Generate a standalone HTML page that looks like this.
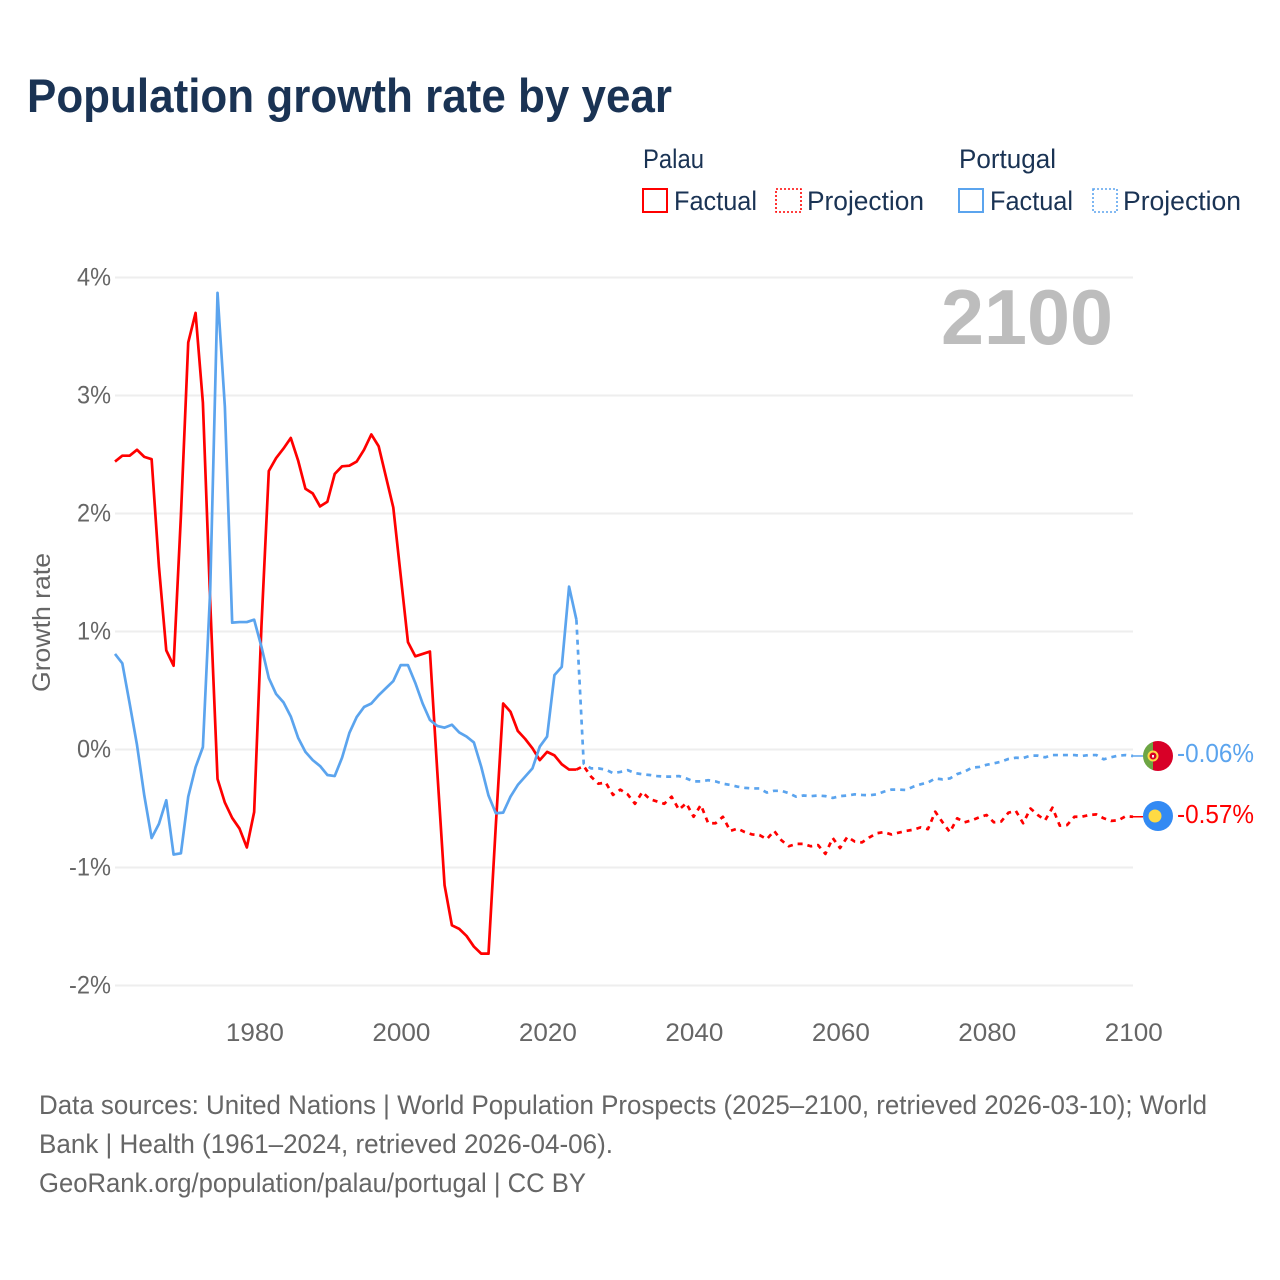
<!DOCTYPE html>
<html lang="en">
<head>
<meta charset="utf-8">
<title>Population growth rate by year</title>
<style>
html,body{margin:0;padding:0;background:#fff;}
svg{display:block;}
text{font-family:"Liberation Sans",sans-serif;}
</style>
</head>
<body>
<svg id="chart" xmlns="http://www.w3.org/2000/svg" width="1280" height="1280" viewBox="0 0 1280 1280">
  <rect x="0" y="0" width="1280" height="1280" fill="#fff"/>
  <text x="27" y="112" font-size="47" font-weight="700" fill="#1a3354" textLength="645" lengthAdjust="spacingAndGlyphs">Population growth rate by year</text>

  <g fill="#1a3354" font-size="27">
    <text x="643" y="168" textLength="61" lengthAdjust="spacingAndGlyphs">Palau</text>
    <text x="959" y="168" textLength="97" lengthAdjust="spacingAndGlyphs">Portugal</text>
    <rect x="643" y="189" width="24" height="23" fill="none" stroke="#ff0000" stroke-width="2"/>
    <text x="674" y="210" textLength="83" lengthAdjust="spacingAndGlyphs">Factual</text>
    <rect x="776" y="189" width="25" height="23" fill="none" stroke="#ff0000" stroke-width="1.6" stroke-dasharray="2 2"/>
    <text x="807" y="210" textLength="117" lengthAdjust="spacingAndGlyphs">Projection</text>
    <rect x="959" y="189" width="24" height="23" fill="none" stroke="#5ba4ee" stroke-width="2"/>
    <text x="990" y="210" textLength="83" lengthAdjust="spacingAndGlyphs">Factual</text>
    <rect x="1093" y="189" width="24" height="23" fill="none" stroke="#5ba4ee" stroke-width="1.6" stroke-dasharray="2 2"/>
    <text x="1123" y="210" textLength="118" lengthAdjust="spacingAndGlyphs">Projection</text>
  </g>

  <g id="grid"></g>
  <g id="yticks"></g>
  <g id="xticks"></g>

  <text transform="translate(50,692) rotate(-90)" font-size="25" fill="#666" textLength="139" lengthAdjust="spacingAndGlyphs">Growth rate</text>
  <text x="941" y="344" font-size="78" font-weight="700" fill="#bdbdbd" textLength="172" lengthAdjust="spacingAndGlyphs">2100</text>

  <g id="series"></g>

  <g>
    <clipPath id="pt-clip"><circle cx="1158" cy="756" r="15"/></clipPath>
    <g clip-path="url(#pt-clip)">
      <rect x="1143" y="741" width="10" height="30" fill="#6da544"/>
      <rect x="1153" y="741" width="20" height="30" fill="#d80027"/>
    </g>
    <circle cx="1153" cy="756" r="4.5" fill="#d80027" stroke="#ffda44" stroke-width="2"/>
    <rect x="1152" y="755" width="2" height="2.5" fill="#f0f0f0"/>
  </g>
  <g>
    <circle cx="1158" cy="816" r="15" fill="#338af3"/>
    <circle cx="1155" cy="816" r="6.5" fill="#ffda44"/>
  </g>

  <text id="label-portugal" x="1177" y="762" font-size="26" fill="#5ba4ee" textLength="77" lengthAdjust="spacingAndGlyphs">-0.06%</text>
  <text id="label-palau" x="1177" y="823" font-size="26" fill="#ff0000" textLength="77" lengthAdjust="spacingAndGlyphs">-0.57%</text>

  <g font-size="26.5" fill="#666">
    <text x="39" y="1114" textLength="1168" lengthAdjust="spacingAndGlyphs">Data sources: United Nations | World Population Prospects (2025–2100, retrieved 2026-03-10); World</text>
    <text x="39" y="1153" textLength="574" lengthAdjust="spacingAndGlyphs">Bank | Health (1961–2024, retrieved 2026-04-06).</text>
    <text x="39" y="1192" textLength="547" lengthAdjust="spacingAndGlyphs">GeoRank.org/population/palau/portugal | CC BY</text>
  </g>
</svg>

<script>
const firstFactualYear = 1961;
const firstProjectionYear = 2025;
const yTickValues = [4, 3, 2, 1, 0, -1, -2];
const yTickLabels = ["4%", "3%", "2%", "1%", "0%", "-1%", "-2%"];
const xTickValues = [1980, 2000, 2020, 2040, 2060, 2080, 2100];
const xTickLabels = ["1980", "2000", "2020", "2040", "2060", "2080", "2100"];

const palauFactual = [
  2.44, 2.49, 2.49, 2.54, 2.48, 2.46, 1.55, 0.84, 0.71, 1.98,
  3.45, 3.70, 2.94, 1.25, -0.25, -0.45, -0.58, -0.67, -0.83, -0.53,
  1.05, 2.36, 2.47, 2.55, 2.64, 2.45, 2.21, 2.17, 2.06, 2.10,
  2.335, 2.40, 2.405, 2.44, 2.54, 2.67, 2.57, 2.31, 2.05, 1.48,
  0.91, 0.79, 0.81, 0.83, -0.18, -1.15, -1.49, -1.52, -1.58, -1.67,
  -1.73, -1.73, -0.64, 0.39, 0.32, 0.157, 0.09, 0.01, -0.09, -0.02,
  -0.05, -0.125, -0.17, -0.17
];
const palauProjection = [
  -0.14, -0.23, -0.29, -0.28, -0.385, -0.34, -0.38, -0.46, -0.36, -0.42,
  -0.44, -0.46, -0.40, -0.51, -0.455, -0.57, -0.47, -0.625, -0.625, -0.57,
  -0.69, -0.67, -0.70, -0.72, -0.725, -0.76, -0.69, -0.77, -0.82, -0.80,
  -0.80, -0.82, -0.81, -0.885, -0.75, -0.835, -0.74, -0.78, -0.787, -0.745,
  -0.71, -0.70, -0.72, -0.705, -0.69, -0.68, -0.66, -0.675, -0.527, -0.617,
  -0.70, -0.583, -0.617, -0.60, -0.575, -0.555, -0.617, -0.61, -0.535, -0.52,
  -0.625, -0.50, -0.555, -0.60, -0.493, -0.645, -0.64, -0.57, -0.57, -0.555,
  -0.55, -0.583, -0.605, -0.60, -0.565, -0.57
];
const portugalFactual = [
  0.81, 0.73, 0.39, 0.04, -0.39, -0.75, -0.63, -0.43, -0.89, -0.88,
  -0.40, -0.15, 0.02, 1.35, 3.87, 2.905, 1.075, 1.08, 1.08, 1.10,
  0.87, 0.605, 0.47, 0.40, 0.28, 0.10, -0.02, -0.09, -0.14, -0.216,
  -0.225, -0.07, 0.14, 0.275, 0.36, 0.39, 0.46, 0.52, 0.58, 0.715,
  0.715, 0.565, 0.39, 0.25, 0.20, 0.185, 0.21, 0.145, 0.11, 0.06,
  -0.145, -0.39, -0.54, -0.535, -0.40, -0.30, -0.23, -0.16, 0.025, 0.11,
  0.63, 0.70, 1.38, 1.10
];
const portugalProjection = [
  -0.12, -0.16, -0.16, -0.17, -0.20, -0.19, -0.175, -0.20, -0.21, -0.216,
  -0.225, -0.23, -0.23, -0.225, -0.245, -0.27, -0.27, -0.26, -0.27, -0.29,
  -0.30, -0.315, -0.325, -0.33, -0.33, -0.365, -0.35, -0.35, -0.37, -0.40,
  -0.39, -0.395, -0.39, -0.395, -0.41, -0.395, -0.39, -0.38, -0.385, -0.388,
  -0.38, -0.357, -0.34, -0.34, -0.343, -0.315, -0.295, -0.28, -0.245, -0.253,
  -0.245, -0.208, -0.188, -0.154, -0.148, -0.13, -0.117, -0.103, -0.08, -0.07,
  -0.072, -0.052, -0.052, -0.066, -0.047, -0.047, -0.047, -0.047, -0.055, -0.047,
  -0.047, -0.083, -0.066, -0.052, -0.047, -0.055
];

const SVG_NS = "http://www.w3.org/2000/svg";
const xScale = function (year) { return 115 + (year - 1961) * (1133 - 115) / 139; };
const yScale = function (value) { return 749.5 - value * 118; };

const gridGroup = document.getElementById("grid");
const yTickGroup = document.getElementById("yticks");
const xTickGroup = document.getElementById("xticks");
const seriesGroup = document.getElementById("series");

yTickValues.forEach(function (value, i) {
  const line = document.createElementNS(SVG_NS, "line");
  
  
  line.setAttribute("x1", xScale(firstFactualYear));
  line.setAttribute("x2", xScale(2100));
  line.setAttribute("y1", yScale(value));
  line.setAttribute("y2", yScale(value));
  line.setAttribute("stroke", "#eeeeee");
  line.setAttribute("stroke-width", "2");
  gridGroup.appendChild(line);

  const label = document.createElementNS(SVG_NS, "text");
  
  
  label.setAttribute("x", 111);
  label.setAttribute("y", yScale(value) + 8);
  label.setAttribute("text-anchor", "end");
  label.setAttribute("font-size", "25");
  label.setAttribute("fill", "#666");
  label.setAttribute("textLength", yTickLabels[i].length === 2 ? "34" : "42");
  label.setAttribute("lengthAdjust", "spacingAndGlyphs");
  label.textContent = yTickLabels[i];
  yTickGroup.appendChild(label);
});

xTickValues.forEach(function (year, i) {
  const label = document.createElementNS(SVG_NS, "text");
  
  
  label.setAttribute("x", xScale(year) + 0.8);
  label.setAttribute("y", 1041);
  label.setAttribute("text-anchor", "middle");
  label.setAttribute("font-size", "25");
  label.setAttribute("fill", "#666");
  label.setAttribute("textLength", "58");
  label.setAttribute("lengthAdjust", "spacingAndGlyphs");
  label.textContent = xTickLabels[i];
  xTickGroup.appendChild(label);
});

function pointsFrom(values, startYear) {
  return values.map(function (value, i) {
    return xScale(startYear + i).toFixed(2) + "," + yScale(value).toFixed(2);
  });
}

function addPolyline(points, color, width, dash) {
  const line = document.createElementNS(SVG_NS, "polyline");
  line.setAttribute("points", points.join(" "));
  line.setAttribute("fill", "none");
  line.setAttribute("stroke", color);
  line.setAttribute("stroke-width", width);
  line.setAttribute("stroke-linejoin", "round");
  if (dash) line.setAttribute("stroke-dasharray", dash);
  seriesGroup.appendChild(line);
  return line;
}

function drawCountry(factual, projection, color) {
  const lastFactual = factual[factual.length - 1];
  const lastProjected = projection[projection.length - 1];
  const factualPoints = pointsFrom(factual, firstFactualYear);
  const projectionPoints = [xScale(firstProjectionYear - 1).toFixed(2) + "," + yScale(lastFactual).toFixed(2)]
    .concat(pointsFrom(projection, firstProjectionYear));
  const connectorPoints = [
    xScale(2100).toFixed(2) + "," + yScale(lastProjected).toFixed(2),
    "1143," + yScale(lastProjected).toFixed(2)
  ];
  return {
    factual: addPolyline(factualPoints, color, 2.7, null),
    projection: addPolyline(projectionPoints, color, 2.7, "5 5"),
    connector: addPolyline(connectorPoints, color, 1.5, null)
  };
}

const palauLines = drawCountry(palauFactual, palauProjection, "#ff0000");







const portugalLines = drawCountry(portugalFactual, portugalProjection, "#5ba4ee");






</script>
</body>
</html>
